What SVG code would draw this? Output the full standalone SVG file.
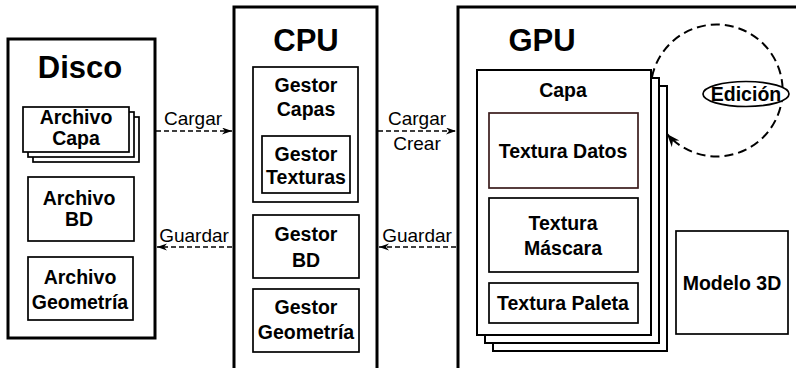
<svg xmlns="http://www.w3.org/2000/svg" width="796" height="368" viewBox="0 0 796 368">
  <defs>
    <style>
      .panel { fill: #ffffff; stroke: #000000; stroke-width: 3; }
      .box { fill: #ffffff; stroke: #000000; stroke-width: 1.7; }
      .sheet { fill: #ffffff; stroke: #000000; stroke-width: 2; }
      .tex { fill: #ffffff; stroke: #3a1c1c; stroke-width: 1.7; }
      .title { font-family: "Liberation Sans", Arial, sans-serif; font-weight: bold; font-size: 31px; text-anchor: middle; fill: #000; }
      .lbl { font-family: "Liberation Sans", Arial, sans-serif; font-weight: bold; font-size: 19.5px; text-anchor: middle; fill: #000; }
      .edge-lbl { font-family: "Liberation Sans", Arial, sans-serif; font-size: 19px; text-anchor: middle; fill: #000; }
      .flow { fill: none; stroke: #000; stroke-width: 1.5; stroke-dasharray: 5 3; }
      .loop { fill: none; stroke: #000; stroke-width: 2; stroke-dasharray: 9 5; }
    </style>
    <marker id="head" markerUnits="userSpaceOnUse" markerWidth="11" markerHeight="8" refX="10" refY="3.5" orient="auto">
      <path d="M0,0 L10,3.5 L0,7 L3,3.5 Z" fill="#000"/>
    </marker>
    <marker id="head-loop" markerUnits="userSpaceOnUse" markerWidth="15" markerHeight="11" refX="13" refY="5" orient="auto">
      <path d="M0,0 L13,5 L0,10 L4,5 Z" fill="#000"/>
    </marker>
  </defs>

  <rect width="796" height="368" fill="#ffffff"/>

  <!-- Disk panel -->
  <g id="disco">
    <rect class="panel" x="8" y="39" width="147" height="299"/>
    <text class="title" x="80" y="78">Disco</text>
  </g>
  <g id="archivo-capa">
    <rect class="box" x="33" y="117" width="106" height="45"/>
    <rect class="box" x="28" y="112" width="106" height="45"/>
    <rect class="box" x="23" y="107" width="106" height="45"/>
    <text class="lbl" x="76" y="124">Archivo</text>
    <text class="lbl" x="76" y="145">Capa</text>
  </g>
  <g id="archivo-bd">
    <rect class="box" x="28" y="177" width="106" height="64"/>
    <text class="lbl" x="79" y="205">Archivo</text>
    <text class="lbl" x="79" y="226">BD</text>
  </g>
  <g id="archivo-geometria">
    <rect class="box" x="28" y="257" width="105" height="63"/>
    <text class="lbl" x="80" y="284">Archivo</text>
    <text class="lbl" x="80" y="309">Geometría</text>
  </g>

  <!-- CPU panel -->
  <g id="cpu">
    <rect class="panel" x="234" y="7" width="143" height="375"/>
    <text class="title" x="306" y="51">CPU</text>
  </g>
  <g id="gestor-capas">
    <rect class="box" x="253" y="67" width="105" height="135"/>
    <text class="lbl" x="306" y="92">Gestor</text>
    <text class="lbl" x="306" y="116">Capas</text>
  </g>
  <g id="gestor-texturas">
    <rect class="box" x="262" y="136" width="88" height="57"/>
    <text class="lbl" x="306" y="161">Gestor</text>
    <text class="lbl" x="306" y="184">Texturas</text>
  </g>
  <g id="gestor-bd">
    <rect class="box" x="253" y="215" width="106" height="63"/>
    <text class="lbl" x="306" y="241">Gestor</text>
    <text class="lbl" x="306" y="267">BD</text>
  </g>
  <g id="gestor-geometria">
    <rect class="box" x="253" y="289" width="106" height="63"/>
    <text class="lbl" x="306" y="314">Gestor</text>
    <text class="lbl" x="306" y="339">Geometría</text>
  </g>

  <!-- GPU panel -->
  <g id="gpu">
    <rect class="panel" x="458" y="7" width="360" height="375"/>
    <text class="title" x="542" y="51">GPU</text>
  </g>
  <g id="capa">
    <rect class="sheet" x="493" y="86" width="174" height="265"/>
    <rect class="sheet" x="485" y="78" width="174" height="265"/>
    <rect class="sheet" x="477" y="70" width="174" height="265"/>
    <text class="lbl" x="563" y="97">Capa</text>
  </g>
  <g id="textura-datos">
    <rect class="tex" x="489" y="113" width="149" height="75"/>
    <text class="lbl" x="563" y="158">Textura Datos</text>
  </g>
  <g id="textura-mascara">
    <rect class="box" x="489" y="198" width="149" height="74"/>
    <text class="lbl" x="563" y="230">Textura</text>
    <text class="lbl" x="563" y="255">Máscara</text>
  </g>
  <g id="textura-paleta">
    <rect class="box" x="489" y="283" width="149" height="40"/>
    <text class="lbl" x="563" y="310">Textura Paleta</text>
  </g>
  <g id="modelo-3d">
    <rect class="box" x="676" y="231" width="112" height="103"/>
    <text class="lbl" x="732" y="290">Modelo 3D</text>
  </g>

  <!-- Connectors -->
  <g id="connectors">
    <line class="flow" x1="156" y1="131" x2="232" y2="131" marker-end="url(#head)"/>
    <text class="edge-lbl" x="193" y="125">Cargar</text>
    <line class="flow" x1="232" y1="247" x2="157" y2="247" marker-end="url(#head)"/>
    <text class="edge-lbl" x="194" y="242">Guardar</text>
    <line class="flow" x1="378" y1="131" x2="456" y2="131" marker-end="url(#head)"/>
    <text class="edge-lbl" x="417" y="125">Cargar</text>
    <text class="edge-lbl" x="417" y="150">Crear</text>
    <line class="flow" x1="456" y1="247" x2="379" y2="247" marker-end="url(#head)"/>
    <text class="edge-lbl" x="417" y="242">Guardar</text>
    <!-- editing loop around the layer stack -->
    <path class="loop" d="M652 77 A66 66 0 1 1 667 134" marker-end="url(#head-loop)"/>
  </g>

  <g id="edicion">
    <ellipse cx="746" cy="94" rx="43" ry="12.5" fill="#ffffff" stroke="#000" stroke-width="1.7"/>
    <text class="lbl" x="746" y="101">Edición</text>
  </g>
</svg>
